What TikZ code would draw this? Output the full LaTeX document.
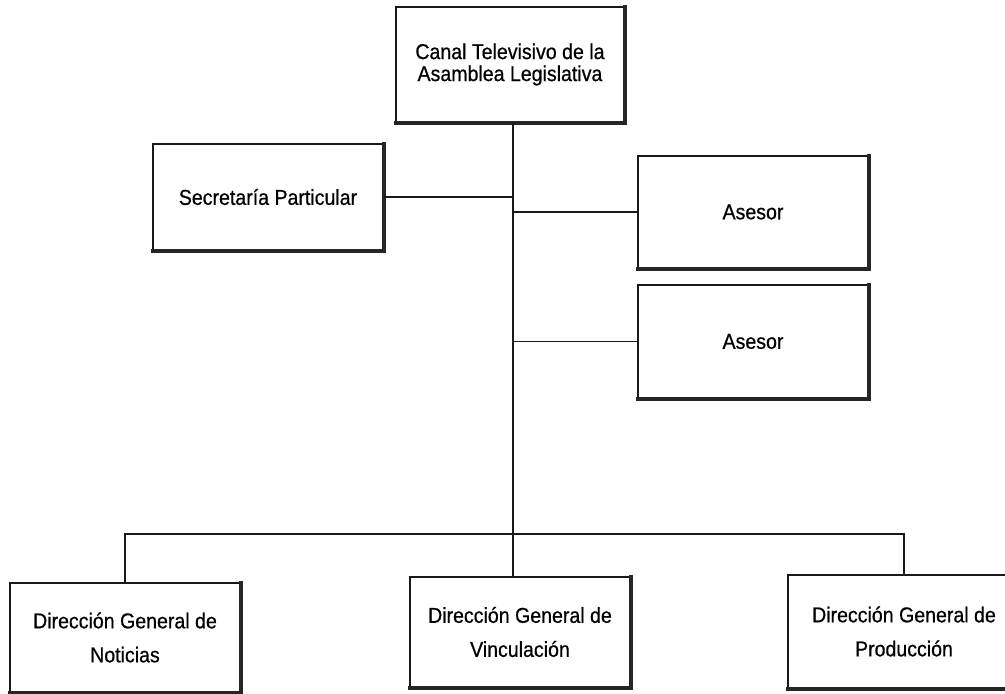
\documentclass[tikz,border=0pt]{standalone}
\usepackage{fontspec}
\setmainfont{Liberation Sans}[FakeStretch=0.91,FakeBold=0.6]
\begin{document}
\begin{tikzpicture}[x=1pt,y=-1pt,
  orgbox/.style={draw=black!90, line width=1.8pt, fill=white, inner sep=0pt, align=center,
    font=\fontsize{21.5}{22}\selectfont},
  lowbox/.style={orgbox, font=\fontsize{21.5}{34}\selectfont},
  shade/.style={draw=black!85, line width=3.6pt},
  conn/.style={draw=black!90, line width=1.5pt}]
\useasboundingbox (0,0) rectangle (1005,694);
\clip (0,0) rectangle (1005,694);
% boxes
\node[orgbox, minimum width=228pt, minimum height=115pt] (top) at (510,64.5) {Canal Televisivo de la\\Asamblea Legislativa};
\node[orgbox, minimum width=230pt, minimum height=106pt] (sec) at (268,197) {Secretaría Particular};
\node[orgbox, minimum width=230pt, minimum height=112pt] (a1) at (753,212) {Asesor};
\node[orgbox, minimum width=230pt, minimum height=113pt] (a2) at (753,341.5) {Asesor};
\node[lowbox, minimum width=230pt, minimum height=109pt] (not) at (125,637.5) {Dirección General de\\Noticias};
\node[lowbox, minimum width=220pt, minimum height=110pt] (vin) at (520,632) {Dirección General de\\Vinculación};
\node[lowbox, minimum width=232pt, minimum height=113pt] (pro) at (904,631.5) {Dirección General de\\Producción};
% heavy right/bottom edges
\foreach \b in {top,sec,a1,a2,not,vin,pro}{
  \draw[shade] ([yshift=1pt]\b.north east) -- (\b.south east) -- ([xshift=-1pt]\b.south west);
}
% connectors
\coordinate (sp) at (513,0);
\coordinate (bus) at (0,534);
\draw[conn] (top.south -| sp) -- (vin.north -| sp);
\draw[conn] (sec.east) -- (sec.east -| sp);
\draw[conn] (a1.west) -- (a1.west -| sp);
\draw[conn] (a2.west) -- (a2.west -| sp);
\draw[conn] (not.north) -- (not.north |- bus) -- (pro.north |- bus) -- (pro.north);
\end{tikzpicture}
\end{document}
